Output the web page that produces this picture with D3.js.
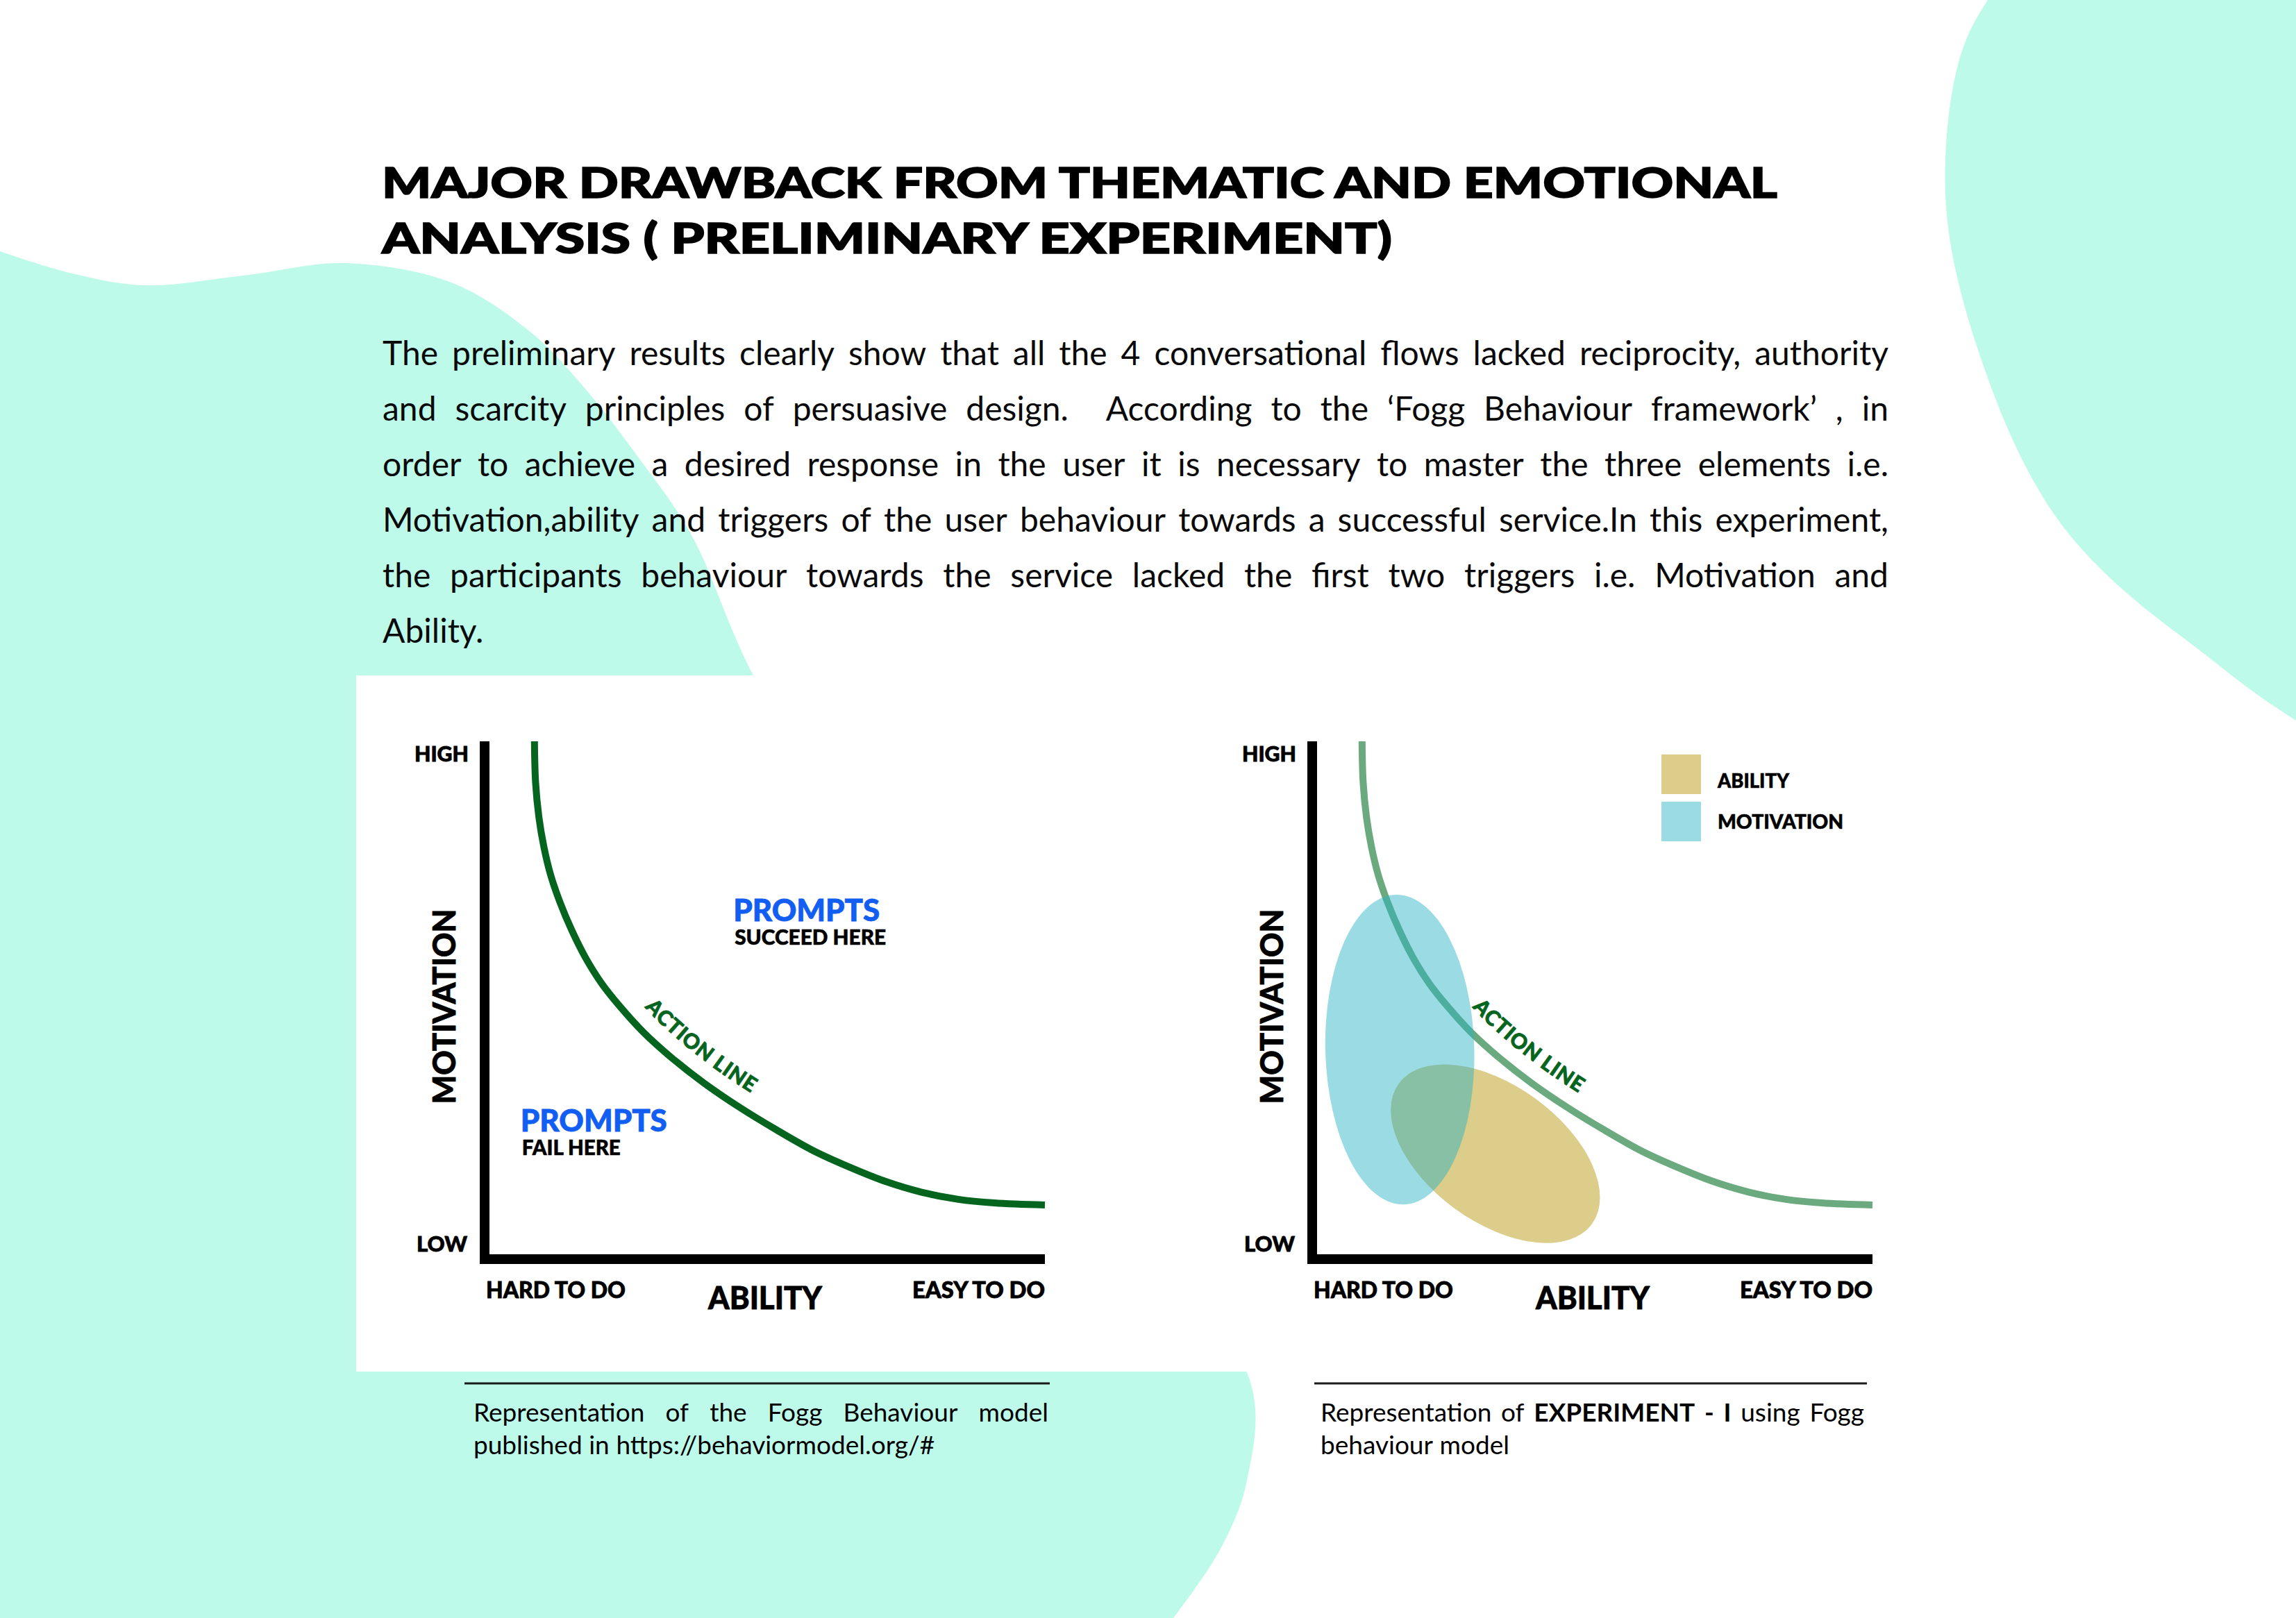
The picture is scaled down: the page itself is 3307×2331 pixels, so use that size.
<!DOCTYPE html>
<html><head><meta charset="utf-8">
<script src="https://cdn.jsdelivr.net/npm/d3@7/dist/d3.min.js"></script>
<style>
html,body{margin:0;padding:0;background:#fff;}
svg{display:block;}
</style></head><body>
<svg id="c" width="3307" height="2331" xmlns="http://www.w3.org/2000/svg"></svg>
<script>
// ---------------- DATA ----------------
const titleLines = ["MAJOR DRAWBACK FROM THEMATIC AND EMOTIONAL", "ANALYSIS ( PRELIMINARY EXPERIMENT)"];
const bodyLines = [
  "The preliminary results clearly show that all the 4 conversational flows lacked reciprocity, authority",
  "and scarcity principles of persuasive design.  According to the \u2018Fogg Behaviour framework\u2019 , in",
  "order to achieve a desired response in the user it is necessary to master the three elements i.e.",
  "Motivation,ability and triggers of the user behaviour towards a successful service.In this experiment,",
  "the participants behaviour towards the service lacked the first two triggers i.e. Motivation and",
  "Ability."
];
// Action line: [ability (0-100), motivation (0-100)]
const actionLine = [
  [8.1,100],[8.3,92.0],[8.9,85.2],[9.8,79.4],[11.0,74.0],[12.7,68.6],[14.8,63.2],
  [17.3,57.8],[20.2,52.8],[23.5,48.3],[27.7,43.3],[32.7,38.4],[38.6,33.4],[45.1,28.6],
  [51.6,24.3],[58.3,20.2],[64.8,17.0],[71.3,14.2],[77.8,12.1],[84.4,10.7],[90.9,10.0],[100,9.6]
];
const axisEnds = {yHigh: "HIGH", yLow: "LOW", xHard: "HARD TO DO", xEasy: "EASY TO DO"};
const axisTitles = {x: "ABILITY", y: "MOTIVATION"};
const curveLabel = "ACTION LINE";
const promptLabels = [
  {head: "PROMPTS", sub: "SUCCEED HERE"},
  {head: "PROMPTS", sub: "FAIL HERE"}
];
// Experiment-1 regions: centre (ability, motivation), radii in axis units, tilt in degrees
const regionNames = ["ABILITY", "MOTIVATION"];
const regionCx = [32.1, 14.9];
const regionCy = [19.6, 39.9];
const regionRx = [21.5, 13.4];
const regionRy = [13.3, 30.2];
const regionTilt = [36, -1.5];
const captionLeft = [["Representation","of","the","Fogg","Behaviour","model"], ["published","in","https://behaviormodel.org/#"]];
const captionRight = [[["Representation",0],["of",0],["EXPERIMENT",1],["-",1],["I",1],["using",0],["Fogg",0]], [["behaviour",0],["model",0]]];

// ---------------- SETUP ----------------
const svg = d3.select('#c');
const MINT = '#bdfaea';
const FONT = 'Lato, "Open Sans", sans-serif';

// background shapes
const blobLeft = [[0,362],[100,393],[207,411],[350,397],[497,379],[650,407],[765,479],[842,559],[918,657],[995,769],[1085,973],[1300,1330],[1560,1690],[1799,1985],[1796,2133],[1757,2233],[1690,2331]];
const blobRight = [[2863,0],[2828,56],[2808,140],[2800,238],[2803,316],[2816,393],[2843,491],[2894,631],[2952,737],[3010,807],[3087,877],[3165,933],[3242,996],[3307,1038]];
const bl = d3.line().curve(d3.curveCatmullRom.alpha(0.5));
const bb = d3.line().curve(d3.curveBasis);
svg.append('path').attr('d', bl(blobLeft) + 'L0,2331Z').attr('fill', MINT);
svg.append('path').attr('d', bb(blobRight) + 'L3307,0Z').attr('fill', MINT);
// white panel behind chart 1
svg.append('rect').attr('x',513).attr('y',973).attr('width',1286).attr('height',1003).attr('fill','#fff');

// ---------------- TITLE ----------------
const titleW = [2010, 1455];
titleLines.forEach((t,i)=>{
  svg.append('text').attr('x',550).attr('y',285 + i*80)
    .attr('font-family',FONT).attr('font-weight',900).attr('font-size',61)
    .attr('fill','#000').attr('stroke','#000').attr('stroke-width',1.6)
    .attr('textLength',titleW[i]).attr('lengthAdjust','spacingAndGlyphs')
    .text(t);
});

// ---------------- JUSTIFIED TEXT ----------------
const meas = svg.append('text').attr('font-family', FONT).attr('x', -5000).attr('y', -5000);
function wordWidth(t, fs, bold) {
  if (!t) return 0;
  meas.attr('font-size', fs).attr('font-weight', bold ? 700 : 400).text(t);
  return meas.node().getComputedTextLength();
}
function setLine(words, x0, x1, y, fs, justify, color) {
  const g = svg.append('g');
  const widths = words.map(w => wordWidth(w[0], fs, w[1]));
  const total = d3.sum(widths);
  const n = words.length;
  const W = x1 - x0;
  let gap = fs * 0.26, scale = 1;
  if (justify && n > 1) {
    gap = (W - total) / (n - 1);
    const minGap = fs * 0.16;
    if (gap < minGap) { gap = minGap; scale = W / (total + gap * (n - 1)); }
  }
  g.attr('transform', `translate(${x0},${y}) scale(${scale},1)`);
  let cx = 0;
  words.forEach((w, i) => {
    if (w[0]) g.append('text').attr('x', cx).attr('y', 0).attr('font-family', FONT)
      .attr('font-size', fs).attr('font-weight', w[1] ? 700 : 400)
      .attr('fill', color || '#000').text(w[0]);
    cx += widths[i] + gap;
  });
}
bodyLines.forEach((ln, i) => {
  const words = ln.split(' ').map(w => [w, 0]);
  setLine(words, 551, 2720, 526 + i * 80, 48, i < bodyLines.length - 1, '#0a0a0a');
});

// ---------------- CHARTS ----------------
function fitText(sel, w) {
  sel.attr('textLength', w).attr('lengthAdjust', 'spacingAndGlyphs');
  return sel;
}
function drawChart(dx, opt) {
  const g = svg.append('g').attr('transform', `translate(${dx},0)`);
  const x = d3.scaleLinear().domain([0,100]).range([705,1505]);
  const y = d3.scaleLinear().domain([0,100]).range([1807,1068]);
  const AX = 14;

  const regionColor = ['#dccd8b', 'rgb(43,178,195)'];
  const regionOpacity = [1, 0.47];
  function drawRegion(i) {
    g.append('ellipse')
      .attr('cx', x(regionCx[i])).attr('cy', y(regionCy[i]))
      .attr('rx', x(regionRx[i]) - x(0)).attr('ry', y(0) - y(regionRy[i]))
      .attr('transform', `rotate(${regionTilt[i]},${x(regionCx[i])},${y(regionCy[i])})`)
      .attr('fill', regionColor[i]).attr('fill-opacity', regionOpacity[i]);
  }
  if (opt.regions) drawRegion(0);

  const line = d3.line().x(d => x(d[0])).y(d => y(d[1])).curve(d3.curveCatmullRom.alpha(0.5));
  const curve = g.append('path').datum(actionLine).attr('d', line)
    .attr('fill','none').attr('stroke', opt.curveColor).attr('stroke-width', 10);

  if (opt.regions) drawRegion(1);

  // offset path for curve label
  const node = curve.node();
  const L = node.getTotalLength();
  const N = 300, off = 26;
  const base = d3.range(N + 1).map(k => node.getPointAtLength(L * k / N));
  const offPts = base.map((p, k) => {
    const a = base[Math.max(0, k - 3)], b = base[Math.min(N, k + 3)];
    let tx = b.x - a.x, ty = b.y - a.y; const m = Math.hypot(tx, ty) || 1; tx /= m; ty /= m;
    return [p.x + ty * off, p.y - tx * off];
  });
  const id = 'off' + dx;
  g.append('path').attr('id', id).attr('d', d3.line().curve(d3.curveBasis)(offPts)).attr('fill','none').attr('stroke','none');
  const targetX = x(35);
  let bestK = 0; base.forEach((p, k) => { if (Math.abs(p.x - targetX) < Math.abs(base[bestK].x - targetX)) bestK = k; });
  let len = 0; for (let k = 1; k <= bestK; k++) len += Math.hypot(offPts[k][0]-offPts[k-1][0], offPts[k][1]-offPts[k-1][1]);
  g.append('text').attr('font-family', FONT).attr('font-weight', 900).attr('font-size', 30)
    .attr('fill', '#05641e').attr('stroke', '#05641e').attr('stroke-width', 0.8).attr('letter-spacing', 1)
    .append('textPath').attr('href', '#' + id).attr('startOffset', len).attr('text-anchor','middle')
    .text(curveLabel);

  // axes
  g.append('g').attr('transform', `translate(${x.range()[0] - AX/2},0)`)
    .call(d3.axisLeft(y).tickValues([]).tickSizeOuter(0))
    .call(s => s.select('.domain').attr('stroke','#000').attr('stroke-width',AX)
      .attr('d', `M0,${y.range()[0]}V${y.range()[1]}`));
  g.append('g').attr('transform', `translate(0,${y.range()[0] + AX/2})`)
    .call(d3.axisBottom(x).tickValues([]).tickSizeOuter(0))
    .call(s => s.select('.domain').attr('stroke','#000').attr('stroke-width',AX)
      .attr('d', `M${x.range()[0] - AX},0H${x.range()[1]}`));

  const lab = (t, px, py, fs, anchor, w) => fitText(g.append('text').attr('x', px).attr('y', py)
    .attr('font-family', FONT).attr('font-weight', 900).attr('font-size', fs)
    .attr('text-anchor', anchor).attr('fill', '#000').attr('stroke', '#000').attr('stroke-width', 0.8).text(t), w);

  lab(axisEnds.yHigh, x(0) - 30, y(100) + 29, 31, 'end', 78);
  lab(axisEnds.yLow, x(0) - 32, y(0) - 4, 31, 'end', 73);
  lab(axisEnds.xHard, x(0) - 5, y(0) + 63, 32, 'start', 201);
  lab(axisEnds.xEasy, x(100), y(0) + 63, 32, 'end', 191);
  lab(axisTitles.x, (x(0) + x(100)) / 2 - 3, y(0) + 79, 45, 'middle', 164);
  lab(axisTitles.y, 0, 0, 45, 'middle', 281)
    .attr('transform', `translate(${x(0) - 49},${y(48.3)}) rotate(-90)`);

  if (opt.prompts) {
    const pos = [[43.9, 65.0], [5.6, 24.0]];
    const headW = [211, 211], subW = [218, 142];
    promptLabels.forEach((p, i) => {
      fitText(g.append('text').attr('x', x(pos[i][0])).attr('y', y(pos[i][1]))
        .attr('font-family', FONT).attr('font-weight', 900).attr('font-size', 43)
        .attr('fill', '#125ef2').attr('stroke', '#125ef2').attr('stroke-width', 0.8).text(p.head), headW[i]);
      fitText(g.append('text').attr('x', x(pos[i][0]) + 2).attr('y', y(pos[i][1]) + 34)
        .attr('font-family', FONT).attr('font-weight', 900).attr('font-size', 30)
        .attr('fill', '#000').attr('stroke', '#000').attr('stroke-width', 0.6).text(p.sub), subW[i]);
    });
  }
  if (opt.regions) {
    const legendFill = ['#dccd8b', '#9bdbe3'];
    const legW = [103, 181];
    regionNames.forEach((nm, i) => {
      const ly = 1087 + i * 68;
      g.append('rect').attr('x', x(62)).attr('y', ly).attr('width', 57).attr('height', 57)
        .attr('fill', legendFill[i]);
      fitText(g.append('text').attr('x', x(62) + 81).attr('y', ly + 48 - i * 9)
        .attr('font-family', FONT).attr('font-weight', 900).attr('font-size', 28)
        .attr('fill', '#000').attr('stroke', '#000').attr('stroke-width', 0.6).text(nm), legW[i]);
    });
  }
}
drawChart(0, {curveColor: '#05641e', prompts: true});
drawChart(1192, {curveColor: '#6aaa7e', regions: true});

// ---------------- CAPTIONS ----------------
svg.append('line').attr('x1',669).attr('x2',1512).attr('y1',1993).attr('y2',1993).attr('stroke','#1a1a1a').attr('stroke-width',3);
svg.append('line').attr('x1',1893).attr('x2',2689).attr('y1',1993).attr('y2',1993).attr('stroke','#1a1a1a').attr('stroke-width',3);
setLine(captionLeft[0].map(w => [w,0]), 682, 1510, 2048, 37, true);
setLine(captionLeft[1].map(w => [w,0]), 682, 1510, 2095, 37, false);
setLine(captionRight[0], 1902, 2685, 2048, 37, true);
setLine(captionRight[1], 1902, 2685, 2095, 37, false);
meas.remove();
</script>
</body></html>
